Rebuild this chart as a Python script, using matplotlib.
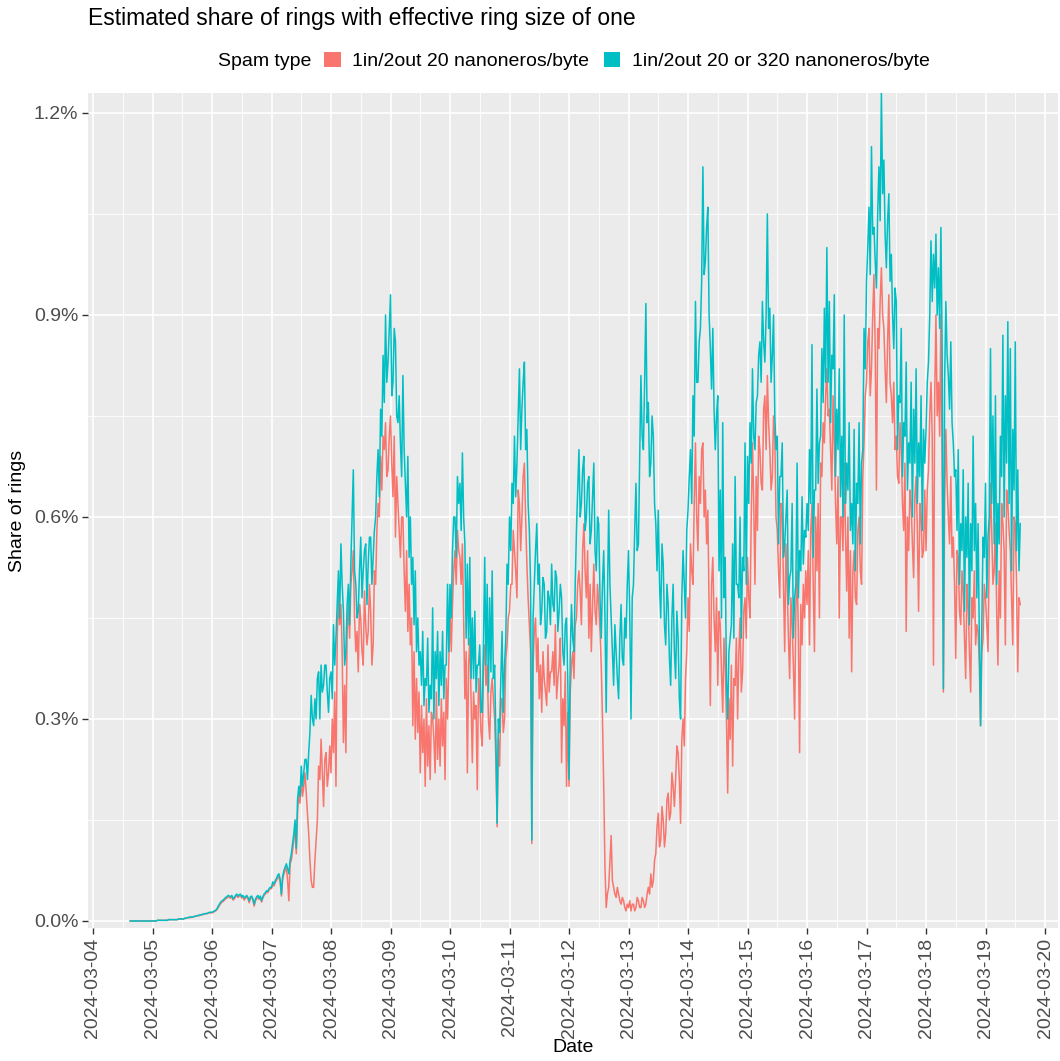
import pandas as pd
import matplotlib
matplotlib.use("Agg")
import matplotlib.pyplot as plt
import matplotlib.dates as mdates
from matplotlib.patches import Patch
from matplotlib.ticker import MultipleLocator, FuncFormatter

plt.rcParams["font.family"] = ["Liberation Sans", "DejaVu Sans"]

# half-hourly estimates, % of rings, starting 2024-03-04 15:00
series_start = "2024-03-04 15:00"

share_20_320 = [
    0.0, 0.0, 0.0, 0.0, 0.0, 0.0, 0.0, 0.0, 0.0, 0.0, 0.0, 0.0, 0.0, 0.0, 0.0, 0.0, 0.0, 0.0,
    # 03-05
    0.000, 0.000, 0.000, 0.000, 0.001, 0.001, 0.001, 0.001, 0.001, 0.001, 0.001, 0.001,
    0.001, 0.002, 0.002, 0.002, 0.002, 0.002, 0.002, 0.002, 0.002, 0.003, 0.003, 0.003,
    0.003, 0.003, 0.004, 0.004, 0.005, 0.005, 0.006, 0.006, 0.006, 0.006, 0.007, 0.007,
    0.008, 0.008, 0.009, 0.009, 0.010, 0.010, 0.011, 0.011, 0.011, 0.012, 0.013, 0.013,
    # 03-06
    0.013, 0.014, 0.015, 0.016, 0.018, 0.022, 0.025, 0.028, 0.030, 0.031, 0.033, 0.035,
    0.036, 0.038, 0.037, 0.036, 0.038, 0.033, 0.035, 0.038, 0.040, 0.037, 0.039, 0.040,
    0.036, 0.038, 0.034, 0.036, 0.038, 0.035, 0.030, 0.036, 0.037, 0.033, 0.025, 0.032,
    0.036, 0.038, 0.034, 0.037, 0.030, 0.036, 0.040, 0.042, 0.045, 0.044, 0.048, 0.050,
    # 03-07
    0.050, 0.058, 0.055, 0.060, 0.063, 0.068, 0.070, 0.062, 0.040, 0.066, 0.075, 0.080,
    0.085, 0.078, 0.070, 0.090, 0.100, 0.115, 0.130, 0.150, 0.108, 0.180, 0.200, 0.185,
    0.230, 0.200, 0.220, 0.240, 0.240, 0.210, 0.250, 0.280, 0.335, 0.300, 0.290, 0.330,
    0.300, 0.360, 0.370, 0.300, 0.380, 0.340, 0.350, 0.380, 0.380, 0.340, 0.310, 0.360,
    # 03-08
    0.37, 0.33, 0.44, 0.38, 0.42, 0.47, 0.52, 0.45, 0.56, 0.50, 0.46, 0.38,
    0.40, 0.47, 0.50, 0.44, 0.53, 0.60, 0.67, 0.52, 0.50, 0.45, 0.46, 0.52,
    0.57, 0.48, 0.52, 0.55, 0.56, 0.47, 0.53, 0.57, 0.57, 0.50, 0.54, 0.58,
    0.60, 0.66, 0.70, 0.63, 0.76, 0.72, 0.84, 0.77, 0.90, 0.80, 0.83, 0.88,
    # 03-09
    0.93, 0.78, 0.80, 0.88, 0.86, 0.75, 0.74, 0.78, 0.71, 0.66, 0.81, 0.70,
    0.65, 0.60, 0.69, 0.54, 0.60, 0.50, 0.54, 0.44, 0.52, 0.40, 0.45, 0.38,
    0.40, 0.35, 0.43, 0.32, 0.36, 0.35, 0.42, 0.31, 0.35, 0.33, 0.465, 0.30,
    0.40, 0.36, 0.43, 0.32, 0.40, 0.35, 0.43, 0.33, 0.38, 0.38, 0.50, 0.40,
    # 03-10
    0.50, 0.45, 0.55, 0.60, 0.60, 0.54, 0.66, 0.62, 0.65, 0.58, 0.695, 0.60,
    0.56, 0.42, 0.53, 0.41, 0.54, 0.36, 0.45, 0.36, 0.46, 0.34, 0.38, 0.38,
    0.41, 0.31, 0.31, 0.41, 0.54, 0.38, 0.50, 0.34, 0.48, 0.37, 0.52, 0.36,
    0.38, 0.27, 0.145, 0.30, 0.28, 0.36, 0.43, 0.31, 0.38, 0.42, 0.53, 0.50,
    # 03-11
    0.60, 0.55, 0.65, 0.62, 0.72, 0.63, 0.68, 0.75, 0.82, 0.70, 0.76, 0.80,
    0.83, 0.70, 0.73, 0.62, 0.58, 0.50, 0.12, 0.45, 0.50, 0.55, 0.59, 0.50,
    0.53, 0.44, 0.46, 0.51, 0.50, 0.42, 0.43, 0.49, 0.48, 0.44, 0.53, 0.47,
    0.46, 0.52, 0.51, 0.43, 0.46, 0.50, 0.48, 0.40, 0.38, 0.44, 0.45, 0.36,
    # 03-12
    0.21, 0.40, 0.47, 0.42, 0.40, 0.50, 0.58, 0.64, 0.70, 0.60, 0.62, 0.67,
    0.69, 0.58, 0.60, 0.65, 0.66, 0.56, 0.58, 0.63, 0.68, 0.55, 0.52, 0.60,
    0.59, 0.48, 0.42, 0.50, 0.55, 0.45, 0.31, 0.48, 0.61, 0.50, 0.45, 0.40,
    0.35, 0.44, 0.40, 0.36, 0.33, 0.42, 0.47, 0.39, 0.38, 0.45, 0.42, 0.50,
    # 03-13
    0.55, 0.45, 0.30, 0.48, 0.50, 0.58, 0.65, 0.55, 0.56, 0.68, 0.81, 0.72,
    0.70, 0.80, 0.917, 0.74, 0.77, 0.66, 0.68, 0.75, 0.72, 0.62, 0.59, 0.52,
    0.61, 0.50, 0.45, 0.56, 0.53, 0.44, 0.41, 0.50, 0.47, 0.39, 0.35, 0.45,
    0.50, 0.40, 0.36, 0.46, 0.42, 0.33, 0.30, 0.48, 0.55, 0.50, 0.45, 0.58,
    # 03-14
    0.61, 0.66, 0.70, 0.62, 0.78, 0.72, 0.92, 0.80, 0.80, 0.86, 0.88, 0.95,
    1.12, 0.96, 0.98, 1.03, 1.06, 0.90, 0.85, 0.79, 0.88, 0.76, 0.70, 0.75,
    0.78, 0.52, 0.64, 0.45, 0.74, 0.48, 0.54, 0.36, 0.30, 0.40, 0.42, 0.44,
    0.56, 0.42, 0.66, 0.50, 0.50, 0.48, 0.60, 0.42, 0.54, 0.52, 0.71, 0.50,
    # 03-15
    0.69, 0.62, 0.74, 0.68, 0.82, 0.72, 0.70, 0.77, 0.78, 0.84, 0.86, 0.80,
    0.92, 0.86, 0.83, 0.90, 1.05, 0.88, 0.91, 0.80, 0.84, 0.90, 0.75, 0.70,
    0.72, 0.56, 0.66, 0.66, 0.71, 0.54, 0.56, 0.60, 0.64, 0.47, 0.51, 0.52,
    0.62, 0.42, 0.48, 0.50, 0.68, 0.48, 0.55, 0.52, 0.63, 0.53, 0.58, 0.57,
    # 03-16
    0.62, 0.58, 0.70, 0.62, 0.856, 0.54, 0.64, 0.64, 0.79, 0.65, 0.71, 0.72,
    0.85, 0.77, 0.91, 0.80, 1.00, 0.80, 0.92, 0.74, 0.84, 0.82, 0.93, 0.66,
    0.76, 0.70, 0.82, 0.63, 0.72, 0.60, 0.90, 0.62, 0.68, 0.64, 0.74, 0.58,
    0.62, 0.56, 0.73, 0.52, 0.65, 0.62, 0.74, 0.56, 0.68, 0.70, 0.88, 0.82,
    # 03-17
    0.95, 1.00, 1.06, 0.96, 1.15, 1.02, 1.03, 0.98, 0.94, 1.05, 1.12, 1.04,
    1.23, 1.08, 1.13, 1.02, 0.97, 1.04, 1.08, 0.95, 0.99, 0.90, 0.85, 0.94,
    0.92, 0.70, 0.78, 0.77, 0.88, 0.66, 0.74, 0.72, 0.83, 0.64, 0.71, 0.68,
    0.80, 0.60, 0.76, 0.68, 0.82, 0.62, 0.71, 0.66, 0.78, 0.58, 0.73, 0.68,
    # 03-18
    0.73, 0.80, 0.83, 0.90, 1.01, 0.92, 0.99, 0.94, 1.02, 0.90, 0.97, 0.88,
    1.03, 0.85, 0.345, 0.80, 0.92, 0.84, 0.81, 0.76, 0.86, 0.74, 0.71, 0.66,
    0.67, 0.58, 0.70, 0.50, 0.59, 0.55, 0.67, 0.46, 0.60, 0.54, 0.65, 0.44,
    0.59, 0.52, 0.72, 0.55, 0.62, 0.48, 0.59, 0.42, 0.29, 0.44, 0.57, 0.54,
    # 03-19 until 14:00
    0.65, 0.48, 0.57, 0.60, 0.85, 0.62, 0.75, 0.56, 0.78, 0.50, 0.62, 0.56,
    0.72, 0.66, 0.87, 0.60, 0.78, 0.68, 0.89, 0.62, 0.85, 0.52, 0.73, 0.64,
    0.86, 0.55, 0.67, 0.52, 0.59,
]

share_20 = [
    0.0, 0.0, 0.0, 0.0, 0.0, 0.0, 0.0, 0.0, 0.0, 0.0, 0.0, 0.0, 0.0, 0.0, 0.0, 0.0, 0.0, 0.0,
    # 03-05
    0.000, 0.000, 0.000, 0.000, 0.001, 0.001, 0.001, 0.001, 0.001, 0.001, 0.001, 0.001,
    0.001, 0.002, 0.002, 0.002, 0.002, 0.002, 0.002, 0.002, 0.002, 0.003, 0.003, 0.003,
    0.003, 0.003, 0.004, 0.004, 0.005, 0.005, 0.005, 0.005, 0.006, 0.006, 0.007, 0.007,
    0.008, 0.008, 0.008, 0.009, 0.009, 0.010, 0.010, 0.011, 0.011, 0.012, 0.012, 0.012,
    # 03-06
    0.012, 0.013, 0.014, 0.015, 0.017, 0.020, 0.023, 0.026, 0.028, 0.029, 0.031, 0.033,
    0.034, 0.036, 0.035, 0.034, 0.036, 0.031, 0.033, 0.036, 0.038, 0.035, 0.037, 0.038,
    0.034, 0.036, 0.031, 0.034, 0.036, 0.033, 0.027, 0.034, 0.035, 0.031, 0.022, 0.030,
    0.033, 0.036, 0.032, 0.035, 0.028, 0.034, 0.038, 0.040, 0.043, 0.042, 0.046, 0.048,
    # 03-07
    0.048, 0.055, 0.052, 0.057, 0.060, 0.064, 0.066, 0.058, 0.037, 0.062, 0.070, 0.075,
    0.080, 0.060, 0.030, 0.085, 0.090, 0.105, 0.120, 0.140, 0.100, 0.160, 0.190, 0.175,
    0.210, 0.185, 0.200, 0.220, 0.190, 0.160, 0.130, 0.090, 0.060, 0.050, 0.050, 0.090,
    0.120, 0.150, 0.230, 0.210, 0.270, 0.220, 0.170, 0.240, 0.250, 0.200, 0.220, 0.260,
    # 03-08
    0.22, 0.30, 0.25, 0.34, 0.20, 0.42, 0.48, 0.44, 0.47, 0.40, 0.265, 0.35,
    0.25, 0.43, 0.47, 0.42, 0.50, 0.52, 0.55, 0.45, 0.40, 0.43, 0.37, 0.47,
    0.45, 0.40, 0.38, 0.49, 0.44, 0.41, 0.43, 0.50, 0.46, 0.38, 0.41, 0.52,
    0.50, 0.58, 0.62, 0.60, 0.69, 0.64, 0.72, 0.70, 0.74, 0.66, 0.67, 0.72,
    # 03-09
    0.75, 0.68, 0.63, 0.72, 0.57, 0.66, 0.62, 0.58, 0.54, 0.60, 0.60, 0.52,
    0.46, 0.55, 0.43, 0.50, 0.41, 0.45, 0.29, 0.40, 0.27, 0.36, 0.28, 0.34,
    0.22, 0.32, 0.25, 0.30, 0.20, 0.33, 0.23, 0.29, 0.21, 0.31, 0.30, 0.27,
    0.22, 0.34, 0.24, 0.30, 0.23, 0.33, 0.26, 0.31, 0.21, 0.36, 0.30, 0.38,
    # 03-10
    0.46, 0.40, 0.47, 0.52, 0.55, 0.50, 0.58, 0.55, 0.54, 0.50, 0.56, 0.45,
    0.33, 0.40, 0.22, 0.38, 0.42, 0.33, 0.235, 0.34, 0.30, 0.32, 0.195, 0.36,
    0.33, 0.28, 0.26, 0.38, 0.41, 0.35, 0.38, 0.30, 0.27, 0.34, 0.36, 0.33,
    0.30, 0.24, 0.14, 0.27, 0.23, 0.33, 0.33, 0.28, 0.30, 0.39, 0.41, 0.45,
    # 03-11
    0.46, 0.50, 0.50, 0.58, 0.55, 0.52, 0.48, 0.64, 0.62, 0.55, 0.60, 0.66,
    0.68, 0.60, 0.53, 0.48, 0.44, 0.40, 0.115, 0.38, 0.43, 0.45, 0.37, 0.42,
    0.33, 0.38, 0.31, 0.40, 0.36, 0.34, 0.32, 0.41, 0.34, 0.37, 0.37, 0.40,
    0.35, 0.44, 0.33, 0.36, 0.38, 0.42, 0.235, 0.33, 0.29, 0.37, 0.20, 0.31,
    # 03-12
    0.20, 0.34, 0.38, 0.40, 0.36, 0.44, 0.45, 0.50, 0.52, 0.49, 0.44, 0.55,
    0.59, 0.52, 0.48, 0.55, 0.42, 0.50, 0.40, 0.47, 0.53, 0.46, 0.44, 0.50,
    0.47, 0.43, 0.38, 0.30, 0.20, 0.08, 0.02, 0.04, 0.05, 0.09, 0.127, 0.06,
    0.05, 0.04, 0.035, 0.05, 0.04, 0.03, 0.025, 0.035, 0.03, 0.02, 0.015, 0.025,
    # 03-13
    0.02, 0.03, 0.015, 0.025, 0.025, 0.015, 0.02, 0.035, 0.03, 0.02, 0.02, 0.035,
    0.03, 0.02, 0.025, 0.04, 0.05, 0.04, 0.07, 0.05, 0.06, 0.09, 0.10, 0.14,
    0.16, 0.11, 0.12, 0.17, 0.15, 0.11, 0.13, 0.18, 0.19, 0.15, 0.16, 0.22,
    0.20, 0.17, 0.21, 0.26, 0.25, 0.21, 0.145, 0.27, 0.30, 0.26, 0.36, 0.40,
    # 03-14
    0.48, 0.43, 0.56, 0.52, 0.50, 0.62, 0.71, 0.60, 0.55, 0.66, 0.62, 0.70,
    0.71, 0.60, 0.64, 0.56, 0.61, 0.47, 0.32, 0.50, 0.54, 0.45, 0.40, 0.48,
    0.35, 0.46, 0.44, 0.37, 0.31, 0.42, 0.38, 0.30, 0.19, 0.33, 0.27, 0.38,
    0.23, 0.36, 0.35, 0.42, 0.30, 0.40, 0.45, 0.34, 0.37, 0.46, 0.48, 0.42,
    # 03-15
    0.54, 0.48, 0.45, 0.60, 0.71, 0.62, 0.50, 0.66, 0.58, 0.72, 0.70, 0.65,
    0.64, 0.76, 0.78, 0.70, 0.81, 0.74, 0.70, 0.64, 0.66, 0.75, 0.72, 0.60,
    0.58, 0.52, 0.48, 0.62, 0.61, 0.50, 0.40, 0.56, 0.50, 0.42, 0.36, 0.48,
    0.44, 0.38, 0.30, 0.46, 0.52, 0.43, 0.25, 0.47, 0.41, 0.50, 0.45, 0.52,
    # 03-16
    0.47, 0.55, 0.41, 0.58, 0.62, 0.50, 0.40, 0.60, 0.52, 0.62, 0.45, 0.68,
    0.66, 0.74, 0.71, 0.78, 0.82, 0.75, 0.76, 0.70, 0.64, 0.78, 0.71, 0.62,
    0.56, 0.66, 0.45, 0.60, 0.60, 0.55, 0.68, 0.58, 0.49, 0.60, 0.42, 0.55,
    0.37, 0.52, 0.55, 0.48, 0.47, 0.58, 0.60, 0.52, 0.50, 0.66, 0.71, 0.78,
    # 03-17
    0.80, 0.86, 0.88, 0.78, 0.82, 0.90, 0.96, 0.85, 0.64, 0.88, 0.85, 0.92,
    0.97, 0.90, 0.88, 0.82, 0.77, 0.86, 0.93, 0.80, 0.78, 0.74, 0.80, 0.70,
    0.72, 0.66, 0.65, 0.74, 0.70, 0.62, 0.58, 0.68, 0.43, 0.60, 0.55, 0.64,
    0.62, 0.56, 0.51, 0.63, 0.66, 0.58, 0.46, 0.62, 0.60, 0.54, 0.55, 0.64,
    # 03-18
    0.55, 0.64, 0.67, 0.75, 0.80, 0.72, 0.38, 0.78, 0.90, 0.75, 0.80, 0.72,
    0.90, 0.68, 0.34, 0.62, 0.73, 0.65, 0.60, 0.56, 0.66, 0.54, 0.57, 0.50,
    0.39, 0.55, 0.54, 0.46, 0.44, 0.52, 0.49, 0.42, 0.36, 0.50, 0.47, 0.40,
    0.34, 0.48, 0.45, 0.52, 0.41, 0.44, 0.43, 0.38, 0.29, 0.40, 0.42, 0.50,
    # 03-19 until 14:00
    0.48, 0.44, 0.40, 0.55, 0.65, 0.58, 0.50, 0.52, 0.59, 0.46, 0.38, 0.52,
    0.45, 0.62, 0.59, 0.55, 0.41, 0.64, 0.62, 0.58, 0.55, 0.48, 0.41, 0.60,
    0.59, 0.50, 0.37, 0.48, 0.47,
]

assert len(share_20) == len(share_20_320)

spam_types = ["1in/2out 20 nanoneros/byte", "1in/2out 20 or 320 nanoneros/byte"]
spam_colors = ["#F8766D", "#00BFC4"]

times = pd.date_range(series_start, periods=len(share_20), freq="30min")

W, H = 1060, 1061
fig = plt.figure(figsize=(W / 100, H / 100), dpi=100)
left, right, top, bottom = 88, 1058, 93, 928
ax = fig.add_axes([left / W, 1 - bottom / H, (right - left) / W, (bottom - top) / H])
ax.set_facecolor("#EBEBEB")
for s in ax.spines.values():
    s.set_visible(False)

ax.plot(times, share_20, color=spam_colors[0], lw=1.1)
ax.plot(times, share_20_320, color=spam_colors[1], lw=1.1)

day0 = pd.Timestamp("2024-03-04")
ax.set_xlim(day0 + pd.Timedelta(days=-0.084), day0 + pd.Timedelta(days=16.218))
ax.set_ylim(-0.0104, 1.2296)

ax.xaxis.set_major_locator(mdates.DayLocator())
ax.xaxis.set_minor_locator(mdates.HourLocator(byhour=12))
ax.xaxis.set_major_formatter(mdates.DateFormatter("%Y-%m-%d"))
ax.yaxis.set_major_locator(MultipleLocator(0.3))
ax.yaxis.set_minor_locator(MultipleLocator(0.15))
ax.yaxis.set_major_formatter(FuncFormatter(lambda v, p: f"{v:.1f}%"))

ax.grid(which="major", color="white", lw=1.2)
ax.grid(which="minor", color="white", lw=0.6)
ax.set_axisbelow(True)
ax.tick_params(which="major", length=4, width=1, color="#333333",
               labelsize=14, labelcolor="#4D4D4D", pad=3)
ax.tick_params(which="minor", length=0)
for lab in ax.get_xticklabels():
    lab.set_rotation(90)

fig.text(left / W, 1 - 19 / H, "Estimated share of rings with effective ring size of one",
         fontsize=16.5, ha="left", va="center")
fig.text((left + right) / 2 / W, 1 - 1048 / H, "Date", fontsize=14, ha="center", va="center")
fig.text(18 / W, 1 - (top + bottom) / 2 / H, "Share of rings", fontsize=14,
         rotation=90, ha="center", va="center")

# legend on top: title followed by the two keys
fig.text(218 / W, 1 - 61 / H, "Spam type", fontsize=14, ha="left", va="center")
handles = [Patch(facecolor=c, edgecolor="none") for c in spam_colors]
fig.legend(handles, spam_types, loc="center left", bbox_to_anchor=(324 / W, 1 - 61 / H),
           ncol=2, frameon=False, fontsize=14, handlelength=0.85, handleheight=0.85,
           handletextpad=0.6, columnspacing=0.75, borderpad=0, borderaxespad=0)

fig.savefig("out.png", dpi=100)
